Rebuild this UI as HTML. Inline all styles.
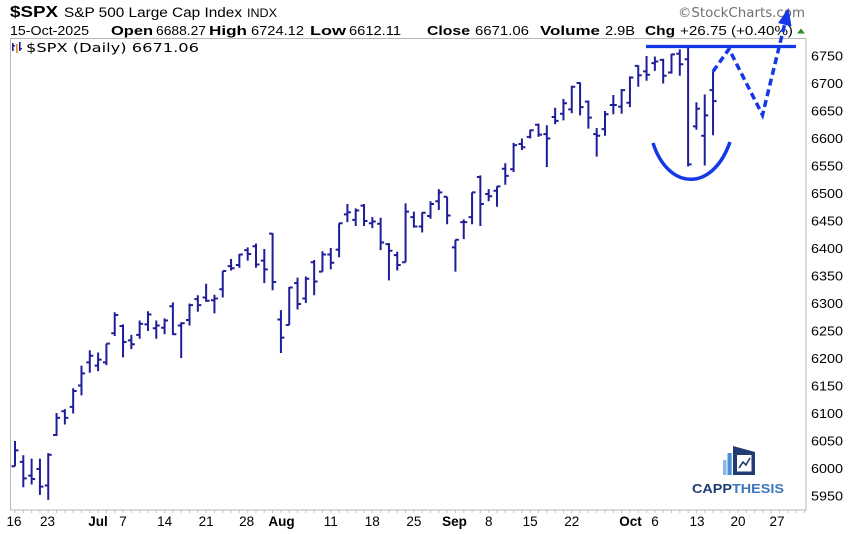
<!DOCTYPE html>
<html>
<head>
<meta charset="utf-8">
<style>
html,body{margin:0;padding:0;background:#fff;}
svg{display:block;}
text{font-family:"Liberation Sans",Arial,sans-serif;}
</style>
</head>
<body>
<svg width="850" height="534" viewBox="0 0 850 534" xmlns="http://www.w3.org/2000/svg">
<defs>
<pattern id="yt" x="0" y="1" width="10" height="5.5" patternUnits="userSpaceOnUse">
<rect x="0" y="0" width="3" height="1" fill="#c4c4c4"/>
</pattern>
<pattern id="xt" x="14.5" y="0" width="8.31" height="10" patternUnits="userSpaceOnUse">
<rect x="0" y="0" width="1" height="3" fill="#c4c4c4"/>
</pattern>
</defs>
<rect width="850" height="534" fill="#fff"/>

<!-- Header -->
<text x="10" y="17" font-size="16" font-weight="bold" fill="#000" textLength="48" lengthAdjust="spacingAndGlyphs">$SPX</text>
<text x="64" y="17" font-size="13.5" fill="#000" textLength="178" lengthAdjust="spacingAndGlyphs">S&amp;P 500 Large Cap Index</text>
<text x="247" y="17" font-size="12" fill="#000" textLength="30" lengthAdjust="spacingAndGlyphs">INDX</text>
<text x="678" y="17" font-size="13" fill="#707070" style="font-family:'DejaVu Sans',sans-serif" textLength="127" lengthAdjust="spacingAndGlyphs">©StockCharts.com</text>

<g font-size="13" fill="#000">
<text x="10" y="35" textLength="79" lengthAdjust="spacingAndGlyphs">15-Oct-2025</text>
<text x="111" y="35" font-weight="bold" textLength="42" lengthAdjust="spacingAndGlyphs">Open</text>
<text x="156" y="35" textLength="50" lengthAdjust="spacingAndGlyphs">6688.27</text>
<text x="209" y="35" font-weight="bold" textLength="38" lengthAdjust="spacingAndGlyphs">High</text>
<text x="251" y="35" textLength="53" lengthAdjust="spacingAndGlyphs">6724.12</text>
<text x="310" y="35" font-weight="bold" textLength="36" lengthAdjust="spacingAndGlyphs">Low</text>
<text x="349" y="35" textLength="52" lengthAdjust="spacingAndGlyphs">6612.11</text>
<text x="427" y="35" font-weight="bold" textLength="43" lengthAdjust="spacingAndGlyphs">Close</text>
<text x="475" y="35" textLength="54" lengthAdjust="spacingAndGlyphs">6671.06</text>
<text x="540" y="35" font-weight="bold" textLength="60" lengthAdjust="spacingAndGlyphs">Volume</text>
<text x="605" y="35" textLength="30" lengthAdjust="spacingAndGlyphs">2.9B</text>
<text x="645" y="35" font-weight="bold" textLength="30" lengthAdjust="spacingAndGlyphs">Chg</text>
<text x="680" y="35" textLength="113" lengthAdjust="spacingAndGlyphs">+26.75 (+0.40%)</text>
</g>
<polygon points="797,33.5 805,33.5 801,28.5" fill="#2a8c2a"/>

<!-- Plot frame -->
<rect x="10.5" y="38.5" width="795.5" height="471.5" fill="none" stroke="#b8b8b8" stroke-width="1"/>
<rect x="806.5" y="39" width="3" height="471" fill="url(#yt)"/>
<rect x="10.5" y="510.5" width="796" height="3" fill="url(#xt)"/>

<!-- Legend -->
<g>
<rect x="12" y="43" width="1.6" height="8" fill="#1e1e98"/>
<rect x="12" y="45" width="3" height="1.4" fill="#1e1e98"/>
<rect x="16" y="44" width="1.6" height="9" fill="#e08a1e"/>
<rect x="19" y="42" width="1.6" height="9" fill="#1e1e98"/>
<rect x="19" y="48" width="3" height="1.4" fill="#1e1e98"/>
</g>
<text x="26" y="52" font-size="12.5" fill="#000" style="font-family:'DejaVu Sans',sans-serif" textLength="173" lengthAdjust="spacingAndGlyphs">$SPX (Daily) 6671.06</text>

<!-- Y axis labels -->
<g font-size="13" fill="#000">
<text x="811" y="60.5" textLength="32" lengthAdjust="spacingAndGlyphs">6750</text>
<text x="811" y="88" textLength="32" lengthAdjust="spacingAndGlyphs">6700</text>
<text x="811" y="115.5" textLength="32" lengthAdjust="spacingAndGlyphs">6650</text>
<text x="811" y="143" textLength="32" lengthAdjust="spacingAndGlyphs">6600</text>
<text x="811" y="170.5" textLength="32" lengthAdjust="spacingAndGlyphs">6550</text>
<text x="811" y="198" textLength="32" lengthAdjust="spacingAndGlyphs">6500</text>
<text x="811" y="225.5" textLength="32" lengthAdjust="spacingAndGlyphs">6450</text>
<text x="811" y="253" textLength="32" lengthAdjust="spacingAndGlyphs">6400</text>
<text x="811" y="280.5" textLength="32" lengthAdjust="spacingAndGlyphs">6350</text>
<text x="811" y="308" textLength="32" lengthAdjust="spacingAndGlyphs">6300</text>
<text x="811" y="335.5" textLength="32" lengthAdjust="spacingAndGlyphs">6250</text>
<text x="811" y="363" textLength="32" lengthAdjust="spacingAndGlyphs">6200</text>
<text x="811" y="390.5" textLength="32" lengthAdjust="spacingAndGlyphs">6150</text>
<text x="811" y="418" textLength="32" lengthAdjust="spacingAndGlyphs">6100</text>
<text x="811" y="445.5" textLength="32" lengthAdjust="spacingAndGlyphs">6050</text>
<text x="811" y="473" textLength="32" lengthAdjust="spacingAndGlyphs">6000</text>
<text x="811" y="500.5" textLength="32" lengthAdjust="spacingAndGlyphs">5950</text>
</g>

<!-- X axis labels -->
<g font-size="13.5" fill="#000" text-anchor="middle">
<text x="14" y="526">16</text>
<text x="47.5" y="526">23</text>
<text x="98" y="526" font-weight="bold">Jul</text>
<text x="123" y="526">7</text>
<text x="164.6" y="526">14</text>
<text x="206.1" y="526">21</text>
<text x="246.7" y="526">28</text>
<text x="281.5" y="526" font-weight="bold">Aug</text>
<text x="330.8" y="526">11</text>
<text x="372.3" y="526">18</text>
<text x="413.9" y="526">25</text>
<text x="454.5" y="526" font-weight="bold">Sep</text>
<text x="488.7" y="526">8</text>
<text x="530.2" y="526">15</text>
<text x="571.8" y="526">22</text>
<text x="630.5" y="526" font-weight="bold">Oct</text>
<text x="655" y="526">6</text>
<text x="697" y="526">13</text>
<text x="738" y="526">20</text>
<text x="777" y="526">27</text>
</g>

<!-- Logo -->
<g>
<rect x="723" y="460" width="3.5" height="15" fill="#86b9e6"/>
<rect x="727.5" y="453" width="4.2" height="22" fill="#4a8fd2"/>
<polygon points="733,446 755,452 755,475 733,475" fill="#213c72"/>
<rect x="737" y="455" width="14.5" height="16.5" fill="#fff"/>
<polyline points="739,468 743,462 746,465 750,458" fill="none" stroke="#213c72" stroke-width="1.6"/>
<text x="692" y="493" font-size="13" font-weight="bold" textLength="92" lengthAdjust="spacingAndGlyphs"><tspan fill="#213c72">CAPP</tspan><tspan fill="#3f76bb">THESIS</tspan></text>
</g>

<!-- Price bars -->
<g transform="matrix(8.31 0 0 -0.55 15 3768.5)">
<path fill="none" stroke="#1e1e98" stroke-width="2" vector-effect="non-scaling-stroke" d="
M0 6004V6050M-.42 6004H0M0 6033H.42
M1 5966V6024M.58 6012H1M1 5982H1.42
M2 5971V6018M1.58 5987H2M2 5981H2.42
M3 5952V6018M2.58 5999H3M3 5967H3.42
M4 5943V6028M3.58 5969H4M4 6025H4.42
M5 6059V6101M4.58 6061H5M5 6092H5.42
M6 6080V6108M5.58 6104H6M6 6092H6.42
M7 6100V6146M6.58 6112H7M7 6141H7.42
M8 6133V6187M7.58 6151H8M8 6173H8.42
M9 6174V6215M8.58 6193H9M9 6205H9.42
M10 6177V6211M9.58 6187H10M10 6198H10.42
M11 6188V6227M10.58 6193H11M11 6227H11.42
M12 6241V6284M11.58 6246H12M12 6279H12.42
M13 6202V6262M12.58 6259H13M13 6230H13.42
M14 6217V6243M13.58 6233H14M14 6226H14.42
M15 6236V6269M14.58 6243H15M15 6263H15.42
M16 6250V6286M15.58 6262H16M16 6280H16.42
M17 6236V6269M16.58 6255H17M17 6260H17.42
M18 6244V6273M17.58 6256H18M18 6269H18.42
M19 6243V6302M18.58 6295H19M19 6244H19.42
M20 6201V6266M19.58 6260H20M20 6264H20.42
M21 6260V6300M20.58 6270H21M21 6297H21.42
M22 6285V6315M21.58 6308H22M22 6297H22.42
M23 6303V6336M22.58 6311H23M23 6305H23.42
M24 6282V6316M23.58 6306H24M24 6309H24.42
M25 6311V6359M24.58 6326H25M25 6359H25.42
M26 6360V6381M25.58 6368H26M26 6364H26.42
M27 6365V6390M26.58 6370H27M27 6389H27.42
M28 6378V6402M27.58 6397H28M28 6390H28.42
M29 6365V6409M28.58 6404H29M29 6371H29.42
M30 6337V6399M29.58 6378H30M30 6362H30.42
M31 6324V6428M30.58 6427H31M31 6339H31.42
M32 6210V6288M31.58 6271H32M32 6238H32.42
M33 6261V6330M32.58 6261H33M33 6329H33.42
M34 6289V6347M33.58 6337H34M34 6299H34.42
M35 6301V6349M34.58 6309H35M35 6345H35.42
M36 6315V6379M35.58 6375H36M36 6340H36.42
M37 6358V6395M36.58 6358H37M37 6389H37.42
M38 6362V6401M37.58 6389H38M38 6374H38.42
M39 6384V6446M38.58 6398H39M39 6446H39.42
M40 6448V6481M39.58 6462H40M40 6466H40.42
M41 6441V6473M40.58 6452H41M41 6469H41.42
M42 6441V6481M41.58 6478H42M42 6450H42.42
M43 6437V6457M42.58 6446H43M43 6449H43.42
M44 6397V6456M43.58 6445H44M44 6411H44.42
M45 6342V6410M44.58 6408H45M45 6396H45.42
M46 6360V6394M45.58 6388H46M46 6370H46.42
M47 6375V6482M46.58 6375H47M47 6467H47.42
M48 6438V6467M47.58 6457H48M48 6440H48.42
M49 6429V6466M48.58 6440H49M49 6465H49.42
M50 6454V6486M49.58 6459H50M50 6481H50.42
M51 6470V6508M50.58 6486H51M51 6502H51.42
M52 6444V6494M51.58 6494H52M52 6460H52.42
M53 6358V6416M52.58 6402H53M53 6416H53.42
M54 6417V6453M53.58 6448H54M54 6448H54.42
M55 6444V6502M54.58 6457H55M55 6502H55.42
M56 6441V6533M55.58 6530H56M56 6481H56.42
M57 6486V6508M56.58 6499H57M57 6495H57.42
M58 6476V6513M57.58 6505H58M58 6513H58.42
M59 6516V6555M58.58 6545H59M59 6532H59.42
M60 6539V6592M59.58 6544H60M60 6588H60.42
M61 6579V6600M60.58 6590H61M61 6584H61.42
M62 6600V6616M61.58 6603H62M62 6615H62.42
M63 6603V6627M62.58 6625H63M63 6607H63.42
M64 6548V6624M63.58 6608H64M64 6600H64.42
M65 6626V6656M64.58 6639H65M65 6632H65.42
M66 6633V6672M65.58 6645H66M66 6664H66.42
M67 6646V6696M66.58 6653H67M67 6694H67.42
M68 6642V6702M67.58 6701H68M68 6657H68.42
M69 6618V6669M68.58 6667H69M69 6638H69.42
M70 6567V6619M69.58 6608H70M70 6605H70.42
M71 6605V6650M70.58 6617H71M71 6644H71.42
M72 6644V6679M71.58 6661H72M72 6661H72.42
M73 6645V6690M72.58 6658H73M73 6688H73.42
M74 6657V6713M73.58 6665H74M74 6711H74.42
M75 6694V6733M74.58 6732H75M75 6715H75.42
M76 6705V6750M75.58 6722H76M76 6716H76.42
M77 6723V6749M76.58 6737H77M77 6740H77.42
M78 6700V6745M77.58 6743H78M78 6714H78.42
M79 6718V6754M78.58 6720H79M79 6753H79.42
M80 6714V6762M79.58 6754H80M80 6735H80.42
M81 6549V6765M80.58 6744H81M81 6553H81.42
M82 6616V6666M81.58 6622H82M82 6654H82.42
M83 6551V6680M82.58 6605H83M83 6642H83.42
M84 6606V6722M83.58 6688H84M84 6668H84.42
"/>
</g>

<!-- Annotations -->
<g stroke="#1538e6" fill="none">
<path d="M646 46.5H796" stroke-width="3.2"/>
<path d="M653 143C668 190 712 193 730 142" stroke-width="3.5"/>
<path d="M713 71.5L729 49L762.5 115L784.5 25" stroke-width="3.5" stroke-dasharray="7 4"/>
</g>
<polygon points="788.5,8 791.5,26.5 778,23" fill="#1538e6"/>
</svg>
</body>
</html>
